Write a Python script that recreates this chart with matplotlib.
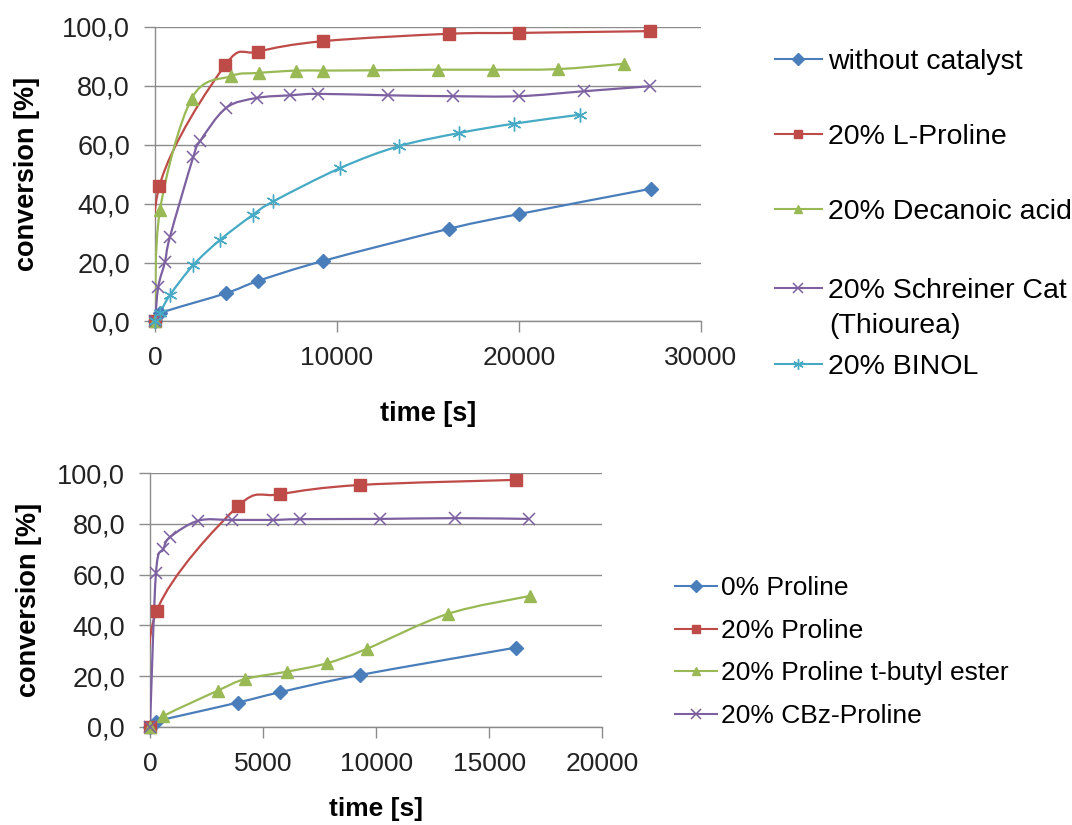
import numpy as np
import matplotlib
matplotlib.use("Agg")
import matplotlib.pyplot as plt
from matplotlib.path import Path
from matplotlib.patches import PathPatch
from matplotlib.lines import Line2D
from matplotlib.ticker import FuncFormatter, MultipleLocator

plt.rcParams['font.family'] = ['Liberation Sans', 'DejaVu Sans']

# ---------------- data: top chart ----------------
top_labels = ["without catalyst", "20% L-Proline", "20% Decanoic acid",
              "20% Schreiner Cat", "20% BINOL"]
t_without = [0, 275, 3905, 5680, 9260, 16170, 20020, 27280]
c_without = [0, 2.8, 9.6, 13.8, 20.6, 31.5, 36.5, 45.1]
t_lpro = [0, 237, 3850, 5650, 9260, 16170, 20020, 27230]
c_lpro = [0, 45.9, 87.0, 91.6, 95.2, 97.7, 98.0, 98.6]
t_dec = [0, 275, 2015, 4160, 5690, 7760, 9260, 11960, 15540, 18560, 22150, 25760]
c_dec = [0, 37.9, 75.7, 83.3, 84.4, 85.2, 85.2, 85.3, 85.5, 85.5, 85.7, 87.5]
t_sch = [0, 180, 550, 825, 2110, 2475, 3905, 5590, 7425, 8985, 12830, 16410, 20020, 23610, 27230]
c_sch = [0, 11.8, 20.3, 28.8, 56.0, 61.2, 72.5, 75.9, 76.8, 77.3, 76.8, 76.5, 76.5, 78.2, 79.9]
t_bin = [0, 275, 825, 2110, 3575, 5370, 6510, 10180, 13390, 16720, 19760, 23340]
c_bin = [0, 2.9, 9.0, 19.2, 27.7, 36.2, 40.8, 52.1, 59.5, 64.0, 67.2, 70.2]

# ---------------- data: bottom chart ----------------
bot_labels = ["0% Proline", "20% Proline", "20% Proline t-butyl ester", "20% CBz-Proline"]
b_t_0 = [0, 250, 3875, 5745, 9285, 16170]
b_c_0 = [0, 2.0, 9.5, 13.6, 20.4, 31.2]
b_t_20 = [0, 295, 3875, 5745, 9285, 16170]
b_c_20 = [0, 45.7, 86.9, 91.7, 95.4, 97.4]
b_t_tb = [0, 590, 2990, 4200, 6040, 7810, 9580, 13160, 16800]
b_c_tb = [0, 4.2, 14.2, 18.8, 21.7, 25.0, 30.7, 44.5, 51.6]
b_t_cbz = [0, 265, 590, 885, 2135, 3610, 5420, 6630, 10170, 13480, 16770]
b_c_cbz = [0, 60.8, 70.0, 74.8, 81.3, 81.6, 81.6, 81.9, 82.0, 82.3, 82.0]

BLUE, RED, GREEN, PURPLE, AQUA = "#4A7EBB", "#BE4B48", "#98B954", "#7D60A0", "#46AAC5"
ASTER = (6, 2, 0)

W, H = 1072, 825
fig = plt.figure(figsize=(W / 100, H / 100), dpi=100)


def fx(px):
    return px / W


def fy(py):
    return 1 - py / H


def smooth_path(x, y):
    pts = np.column_stack([np.asarray(x, float), np.asarray(y, float)])
    n = len(pts)
    verts = [pts[0]]
    codes = [Path.MOVETO]
    for i in range(n - 1):
        p0 = pts[i - 1] if i > 0 else pts[i]
        p1 = pts[i]
        p2 = pts[i + 1]
        p3 = pts[i + 2] if i + 2 < n else pts[i + 1]
        c1 = p1 + (p2 - p0) / 6.0
        c2 = p2 - (p3 - p1) / 6.0
        verts += [c1, c2, p2]
        codes += [Path.CURVE4] * 3
    return Path(verts, codes)


def series(ax, x, y, color, marker, ms, mew=1.0, mfc=None):
    ax.add_patch(PathPatch(smooth_path(x, y), fill=False, edgecolor=color,
                           lw=1.6, transform=ax.transData, zorder=3))
    ax.plot(x, y, ls='none', marker=marker, ms=ms, color=color,
            mfc=mfc if mfc else color, mec=color, mew=mew, clip_on=False, zorder=4)
    return Line2D([], [], color=color, lw=1.5, marker=marker, ms=ms * 0.75,
                  mfc=mfc if mfc else color, mec=color, mew=mew)


GRID = "#8C8C8C"


def style(ax, xmax, xstep):
    ax.set_xlim(0, xmax)
    ax.set_ylim(0, 100)
    ax.xaxis.set_major_locator(MultipleLocator(xstep))
    ax.yaxis.set_major_locator(MultipleLocator(20))
    ax.yaxis.set_major_formatter(FuncFormatter(lambda v, p: f"{v:.1f}".replace('.', ',')))
    ax.xaxis.set_major_formatter(FuncFormatter(lambda v, p: f"{int(v)}"))
    ax.grid(axis='y', color=GRID, lw=1.0)
    ax.set_axisbelow(True)
    for s in ('top', 'right'):
        ax.spines[s].set_visible(False)
    for s in ('left', 'bottom'):
        ax.spines[s].set_color(GRID)
        ax.spines[s].set_linewidth(1.0)
    ax.tick_params(axis='both', direction='out', length=8, width=1.0, color=GRID,
                   labelsize=19, labelcolor='#222222', pad=10)
    ax.tick_params(axis='y', labelsize=19.5)


# ---------------- top chart ----------------
ax1 = fig.add_axes([fx(155), fy(321.5), fx(700.7 - 155), (321.5 - 27) / H])
style(ax1, 30000, 10000)
h_top = [
    series(ax1, t_without, c_without, BLUE, 'D', 7.5),
    series(ax1, t_lpro, c_lpro, RED, 's', 8.5),
    series(ax1, t_dec, c_dec, GREEN, '^', 8.5),
    series(ax1, t_sch, c_sch, PURPLE, 'x', 9, mew=1.1),
    series(ax1, t_bin, c_bin, AQUA, ASTER, 10, mew=1.0),
]
ax1.set_ylabel("conversion [%]", fontsize=19.5, fontweight='bold')
ax1.yaxis.set_label_coords((40 - 155) / 545.7, 0.5)
ax1.set_xlabel("time [s]", fontsize=19.5, fontweight='bold')
ax1.xaxis.set_label_coords(0.5, (321.5 - 401) / 294.5)

top_rows = [62, 137, 212, 291, 367]
for h, lab, py in zip(h_top, top_labels, top_rows):
    fig.legend(handles=[h], labels=[lab], loc='center left',
               bbox_to_anchor=(fx(775), fy(py)), frameon=False, borderpad=0,
               borderaxespad=0, handlelength=1.65, handletextpad=0.2,
               fontsize=20.5)
fig.text(fx(829), fy(326), "(Thiourea)", fontsize=20.5, va='center', ha='left')

# ---------------- bottom chart ----------------
ax2 = fig.add_axes([fx(150), fy(726.7), fx(602.3 - 150), (726.7 - 473.3) / H])
style(ax2, 20000, 5000)
h_bot = [
    series(ax2, b_t_0, b_c_0, BLUE, 'D', 7.5),
    series(ax2, b_t_20, b_c_20, RED, 's', 8.5),
    series(ax2, b_t_tb, b_c_tb, GREEN, '^', 8.5),
    series(ax2, b_t_cbz, b_c_cbz, PURPLE, 'x', 9, mew=1.1),
]
ax2.set_ylabel("conversion [%]", fontsize=19.5, fontweight='bold')
ax2.yaxis.set_label_coords((42 - 150) / 452.3, 0.5)
ax2.set_xlabel("time [s]", fontsize=19, fontweight='bold')
ax2.xaxis.set_label_coords(0.5, (726.7 - 797) / 253.4)

bot_rows = [588, 631, 673, 716]
for h, lab, py in zip(h_bot, bot_labels, bot_rows):
    fig.legend(handles=[h], labels=[lab], loc='center left',
               bbox_to_anchor=(fx(675), fy(py)), frameon=False, borderpad=0,
               borderaxespad=0, handlelength=1.6, handletextpad=0.15,
               fontsize=19)

fig.savefig("out.png", dpi=100)
